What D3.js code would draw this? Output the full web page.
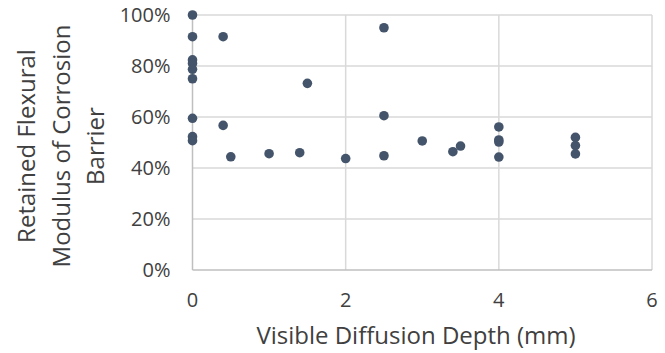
<!DOCTYPE html>
<html>
<head>
<meta charset="utf-8">
<script src="https://cdn.jsdelivr.net/npm/d3@7"></script>
<style>
  body { margin: 0; background: #fff; }
  text { font-family: "Open Sans", Lato, sans-serif; fill: #404040; }
</style>
</head>
<body>
<div id="chart"></div>
<script>
// depth (mm) and retained modulus (%)
var depth    = [0, 0, 0, 0, 0, 0, 0, 0, 0, 0.4, 0.4, 0.5, 1, 1.4, 1.5, 2, 2.5, 2.5, 2.5, 3, 3.4, 3.5, 4, 4, 4, 4, 5, 5, 5];
var retained = [100, 91.5, 82.4, 81, 78.7, 75, 59.5, 52.3, 50.7, 91.5, 56.7, 44.4, 45.6, 46, 73.2, 43.7, 95, 60.5, 44.8, 50.6, 46.4, 48.6, 56.1, 51, 50.2, 44.3, 52, 48.8, 45.5];
var xTicks = [0, 2, 4, 6];
var yTicks = [0, 20, 40, 60, 80, 100];
var yTitle = ["Retained Flexural", "Modulus of Corrosion", "Barrier"];
var xTitle = "Visible Diffusion Depth (mm)";

var W = 665, H = 353;
var Margin = {top: 15, right: 13, bottom: 83, left: 192.5};
var InnerWidth = W - Margin.left - Margin.right;
var InnerHeight = H - Margin.top - Margin.bottom;

var svg = d3.select("#chart").append("svg")
  .attr("width", W).attr("height", H);

var g = svg.append("g")
  .attr("transform", "translate(" + Margin.left + "," + Margin.top + ")");

var x = d3.scaleLinear().domain([0, 6]).range([0, InnerWidth]);
var y = d3.scaleLinear().domain([0, 100]).range([InnerHeight, 0]);

// gridlines
g.selectAll(".hgrid").data(yTicks.filter(d => d > 0)).enter().append("line")
  .attr("x1", 0).attr("x2", InnerWidth)
  .attr("y1", d => y(d)).attr("y2", d => y(d))
  .style("stroke", "#d9d9d9").style("stroke-width", 1.5);

g.selectAll(".vgrid").data(xTicks).enter().append("line")
  .attr("x1", d => x(d)).attr("x2", d => x(d))
  .attr("y1", 0).attr("y2", InnerHeight)
  .style("stroke", d => d === 0 ? "#bfbfbf" : "#d9d9d9").style("stroke-width", 1.5);

g.append("line")
  .attr("x1", 0).attr("x2", InnerWidth)
  .attr("y1", InnerHeight).attr("y2", InnerHeight)
  .style("stroke", "#bfbfbf").style("stroke-width", 1.5);

// tick labels
g.selectAll(".ylab").data(yTicks).enter().append("text")
  .attr("x", -22).attr("y", d => y(d))
  .attr("dy", "0.36em")
  .attr("text-anchor", "end")
  .style("font-size", "20px")
  .text(d => d + "%");

g.selectAll(".xlab").data(xTicks).enter().append("text")
  .attr("x", d => x(d)).attr("y", InnerHeight + 37)
  .attr("text-anchor", "middle")
  .style("font-size", "20px")
  .text(d => d);

// titles
svg.append("text")
  .attr("x", 416).attr("y", 344)
  .attr("text-anchor", "middle")
  .style("font-size", "24px")
  .text(xTitle);

var yt = svg.append("text")
  .attr("transform", "translate(0,146) rotate(-90)")
  .attr("text-anchor", "middle")
  .style("font-size", "24px");
yt.selectAll("tspan").data(yTitle).enter().append("tspan")
  .attr("x", 0).attr("y", (d, i) => 35 + i * 34.5)
  .text(d => d);

// points
g.selectAll(".pt").data(depth).enter().append("circle")
  .attr("cx", d => x(d))
  .attr("cy", (d, i) => y(retained[i]))
  .attr("r", 4.8)
  .style("fill", "#44546a");
</script>
</body>
</html>
